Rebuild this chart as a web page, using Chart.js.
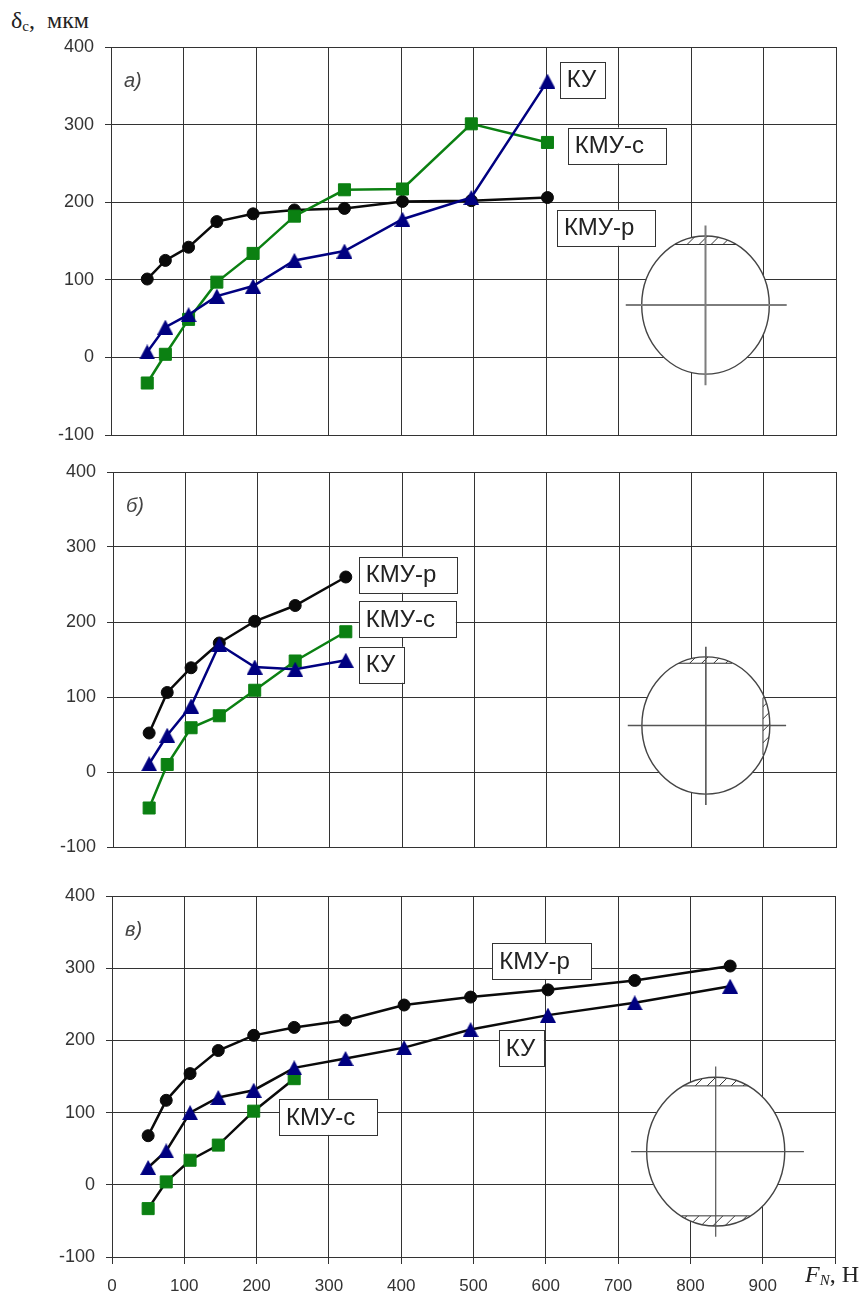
<!DOCTYPE html>
<html>
<head>
<meta charset="utf-8">
<title>δc, мкм</title>
<script src="https://cdn.jsdelivr.net/npm/chart.js@4/dist/chart.umd.min.js"></script>
<style>
  html, body { margin: 0; padding: 0; background: #fff; }
  body { position: relative; width: 866px; height: 1301px; overflow: hidden; }
  canvas { position: absolute; left: 0; }
  .axisTitle { position: absolute; font-family: "Liberation Serif", serif; font-size: 24px; color: #222; white-space: nowrap; }
  .axisTitle sub { font-size: 15px; vertical-align: -3px; line-height: 0; }
</style>
</head>
<body>
<canvas id="chartA" width="866" height="408" style="top:35px"></canvas>
<canvas id="chartB" width="866" height="395" style="top:460px"></canvas>
<canvas id="chartC" width="866" height="417" style="top:884px"></canvas>
<div class="axisTitle" style="left:11px;top:7px">δ<sub>с</sub>, &nbsp;мкм</div>
<div class="axisTitle" style="left:805px;top:1261px"><i>F<sub>N</sub></i>, Н</div>

<script>
// ===== DATA =====
const xTickLabels = ["0", "100", "200", "300", "400", "500", "600", "700", "800", "900", ""];
const yTickLabels = ["-100", "0", "100", "200", "300", "400"];

const forceA = [50, 75, 107, 146, 196, 253, 322, 402, 497, 602];
const kmuRA = [101, 125, 142, 175, 185, 190, 192, 201, 202, 206];
const kmuSA = [-33, 4, 49, 97, 134, 182, 216, 217, 301, 277];
const kuA = [7, 39, 55, 79, 92, 125, 137, 178, 206, 356];

const forceB = [50, 75, 108, 147, 196, 252, 322];
const kmuRB = [52, 106, 139, 172, 201, 222, 260];
const kmuSB = [-48, 10, 59, 75, 109, 148, 187];
const kuB = [11, 49, 88, 170, 140, 137, 149];

const forceC = [50, 75, 108, 147, 196, 252, 323, 404, 496, 603, 723, 855];
const kmuRC = [68, 117, 154, 186, 207, 218, 228, 249, 260, 270, 283, 303];
const kmuSC = [-33, 4, 34, 55, 102, 147];
const kuC = [24, 47, 100, 121, 131, 162, 175, 190, 215, 235, 252, 275];

// text boxes: x of left edge and y of middle, in chart units
const notesA = [
  { text: "КУ", x: 619, y: 358, w: 45 },
  { text: "КМУ-с", x: 630, y: 273, w: 98 },
  { text: "КМУ-р", x: 615, y: 167, w: 98 }
];
const notesB = [
  { text: "КМУ-р", x: 340, y: 263, w: 98 },
  { text: "КМУ-с", x: 340, y: 204, w: 97 },
  { text: "КУ", x: 340, y: 143, w: 45 }
];
const notesC = [
  { text: "КМУ-с", x: 231, y: 94, w: 98 },
  { text: "КМУ-р", x: 526, y: 310, w: 99 },
  { text: "КУ", x: 535, y: 189, w: 45 }
];

// section sketches, in chart units too
const sketchA = {
  cx: 820, cy: 67.5, rx: 88, ry: 89,
  hLine: [710, 932], vLine: [-36, 170],
  hatch: [[778, 862, 145.5, 200]],
  crossColor: "#7d7d7d", crossWidth: 2
};
const sketchB = {
  cx: 820, cy: 62, rx: 88.5, ry: 91.5,
  hLine: [712, 931], vLine: [-44, 167],
  hatch: [[781, 856, 145, 200], [899, 960, 23, 99]],
  crossColor: "#555", crossWidth: 1.6
};
const sketchC = {
  cx: 835, cy: 46, rx: 95.5, ry: 103,
  hLine: [718, 957], vLine: [-72, 164],
  hatch: [[790, 880, 137, 200], [788, 882, -100, -43]],
  crossColor: "#555", crossWidth: 1.2
};

// ===== COLOURS =====
const GRID = "#333";
const BLACK = "#0a0a0a";
const GREEN = "#0b8012";
const NAVY = "#000080";

// Chart.js centres its own triangle on the circumcentre, the original sits at mid height
const triangleMark = document.createElement("canvas");
triangleMark.width = 16;
triangleMark.height = 15;
const tri = triangleMark.getContext("2d");
tri.fillStyle = NAVY;
tri.beginPath();
tri.moveTo(8, 0);
tri.lineTo(16, 15);
tri.lineTo(0, 15);
tri.closePath();
tri.fill();

function makeSeries(label, xs, ys, color, style, size, lineColor) {
  return {
    label: label,
    data: ys.map((y, i) => ({ x: xs[i], y: y })),
    showLine: true,
    borderColor: lineColor || color,
    borderWidth: 2.5,
    pointBackgroundColor: color,
    pointBorderColor: color,
    pointBorderWidth: 1,
    pointStyle: style,
    pointRadius: size,
    tension: 0
  };
}

// draws the ellipse, its cross and the hatched flats
function drawSketch(ctx, sx, sy, s) {
  const cx = sx.getPixelForValue(s.cx);
  const cy = sy.getPixelForValue(s.cy);
  const rx = Math.abs(sx.getPixelForValue(s.cx + s.rx) - cx);
  const ry = Math.abs(sy.getPixelForValue(s.cy + s.ry) - cy);

  ctx.save();
  ctx.beginPath();
  ctx.ellipse(cx, cy, rx, ry, 0, 0, Math.PI * 2);
  ctx.fillStyle = "#fff";
  ctx.fill();
  ctx.strokeStyle = "#444";
  ctx.lineWidth = 1.4;
  ctx.stroke();

  s.hatch.forEach(h => {
    const x0 = sx.getPixelForValue(h[0]);
    const x1 = sx.getPixelForValue(h[1]);
    const y0 = sy.getPixelForValue(h[3]);
    const y1 = sy.getPixelForValue(h[2]);
    ctx.save();
    ctx.beginPath();
    ctx.ellipse(cx, cy, rx, ry, 0, 0, Math.PI * 2);
    ctx.clip();
    ctx.beginPath();
    ctx.rect(x0, y0, x1 - x0, y1 - y0);
    ctx.strokeStyle = "#333";
    ctx.lineWidth = 1;
    ctx.stroke();
    ctx.clip();
    ctx.beginPath();
    for (let x = x0 - 60; x < x1 + 60; x += 12) {
      ctx.moveTo(x, y1);
      ctx.lineTo(x + (y1 - y0), y0);
    }
    ctx.stroke();
    ctx.restore();
  });

  ctx.strokeStyle = s.crossColor;
  ctx.lineWidth = s.crossWidth;
  ctx.beginPath();
  ctx.moveTo(sx.getPixelForValue(s.hLine[0]), cy);
  ctx.lineTo(sx.getPixelForValue(s.hLine[1]), cy);
  ctx.moveTo(cx, sy.getPixelForValue(s.vLine[0]));
  ctx.lineTo(cx, sy.getPixelForValue(s.vLine[1]));
  ctx.stroke();
  ctx.restore();
}

// extras: panel letter, sketch and labelled boxes
const extrasPlugin = {
  id: "extras",
  afterDatasetsDraw(chart, args, opts) {
    const ctx = chart.ctx;
    const sx = chart.scales.x;
    const sy = chart.scales.y;

    drawSketch(ctx, sx, sy, opts.sketch);

    ctx.save();
    ctx.font = "italic 20px 'Liberation Sans', Arial, sans-serif";
    ctx.fillStyle = "#444";
    ctx.textAlign = "left";
    ctx.textBaseline = "middle";
    ctx.fillText(opts.letter, sx.left + 13, chart.chartArea.top + 34);

    ctx.font = "24px 'Liberation Sans', Arial, sans-serif";
    opts.notes.forEach(n => {
      const left = sx.getPixelForValue(n.x);
      const mid = sy.getPixelForValue(n.y);
      ctx.fillStyle = "#fff";
      ctx.fillRect(left, mid - 18, n.w, 36);
      ctx.strokeStyle = "#333";
      ctx.lineWidth = 1;
      ctx.strokeRect(Math.round(left) + 0.5, Math.round(mid - 18) + 0.5, n.w, 36);
      ctx.fillStyle = "#222";
      ctx.fillText(n.text, left + 7, mid + 1);
    });
    ctx.restore();
  }
};

function makePanel(id, cfg) {
  return new Chart(document.getElementById(id), {
    type: "scatter",
    data: { datasets: cfg.series },
    plugins: [extrasPlugin],
    options: {
      responsive: false,
      animation: false,
      layout: { autoPadding: false, padding: { top: 12, right: 866 - cfg.right, left: 0, bottom: 0 } },
      plugins: {
        legend: { display: false },
        tooltip: { enabled: false },
        extras: { letter: cfg.letter, notes: cfg.notes, sketch: cfg.sketch }
      },
      scales: {
        x: {
          type: "linear",
          min: 0,
          max: 1000,
          afterFit: s => { s.height = cfg.bottom; },
          afterBuildTicks: s => { s.ticks = xTickLabels.map((t, i) => ({ value: i * 100 })); },
          grid: { color: GRID, lineWidth: 1, drawTicks: cfg.showX, tickLength: 7, tickColor: GRID },
          border: { color: GRID, width: 1 },
          ticks: {
            display: cfg.showX,
            padding: 12,
            autoSkip: false,
            maxRotation: 0,
            color: "#333",
            font: { family: "'Liberation Sans', Arial, sans-serif", size: 17 },
            callback: (v, i) => xTickLabels[i]
          }
        },
        y: {
          min: -100,
          max: 400,
          // keep the plot box where the reference has it
          afterFit: s => { s.width = cfg.left; s.paddingTop = 0; s.paddingBottom = 0; },
          afterBuildTicks: s => { s.ticks = yTickLabels.map(t => ({ value: Number(t) })); },
          grid: { color: GRID, lineWidth: 1, drawTicks: true, tickLength: 6, tickColor: GRID },
          border: { color: GRID, width: 1 },
          ticks: {
            padding: 11,
            autoSkip: false,
            color: "#333",
            font: { family: "'Liberation Sans', Arial, sans-serif", size: 18 },
            callback: (v, i) => yTickLabels[i]
          }
        }
      }
    }
  });
}

// ===== CHARTS =====
makePanel("chartA", {
  left: 111, right: 836, bottom: 8, showX: false, letter: "а)", notes: notesA, sketch: sketchA,
  series: [
    makeSeries("КУ", forceA, kuA, NAVY, triangleMark, 8),
    makeSeries("КМУ-с", forceA, kmuSA, GREEN, "rect", 8.5),
    makeSeries("КМУ-р", forceA, kmuRA, BLACK, "circle", 6)
  ]
});

makePanel("chartB", {
  left: 113, right: 836, bottom: 8, showX: false, letter: "б)", notes: notesB, sketch: sketchB,
  series: [
    makeSeries("КУ", forceB, kuB, NAVY, triangleMark, 8),
    makeSeries("КМУ-с", forceB, kmuSB, GREEN, "rect", 8.5),
    makeSeries("КМУ-р", forceB, kmuRB, BLACK, "circle", 6)
  ]
});

makePanel("chartC", {
  left: 112, right: 835, bottom: 44, showX: true, letter: "в)", notes: notesC, sketch: sketchC,
  series: [
    makeSeries("КУ", forceC, kuC, NAVY, triangleMark, 8, BLACK),
    makeSeries("КМУ-с", forceC, kmuSC, GREEN, "rect", 8.5, BLACK),
    makeSeries("КМУ-р", forceC, kmuRC, BLACK, "circle", 6)
  ]
});
</script>
</body>
</html>
